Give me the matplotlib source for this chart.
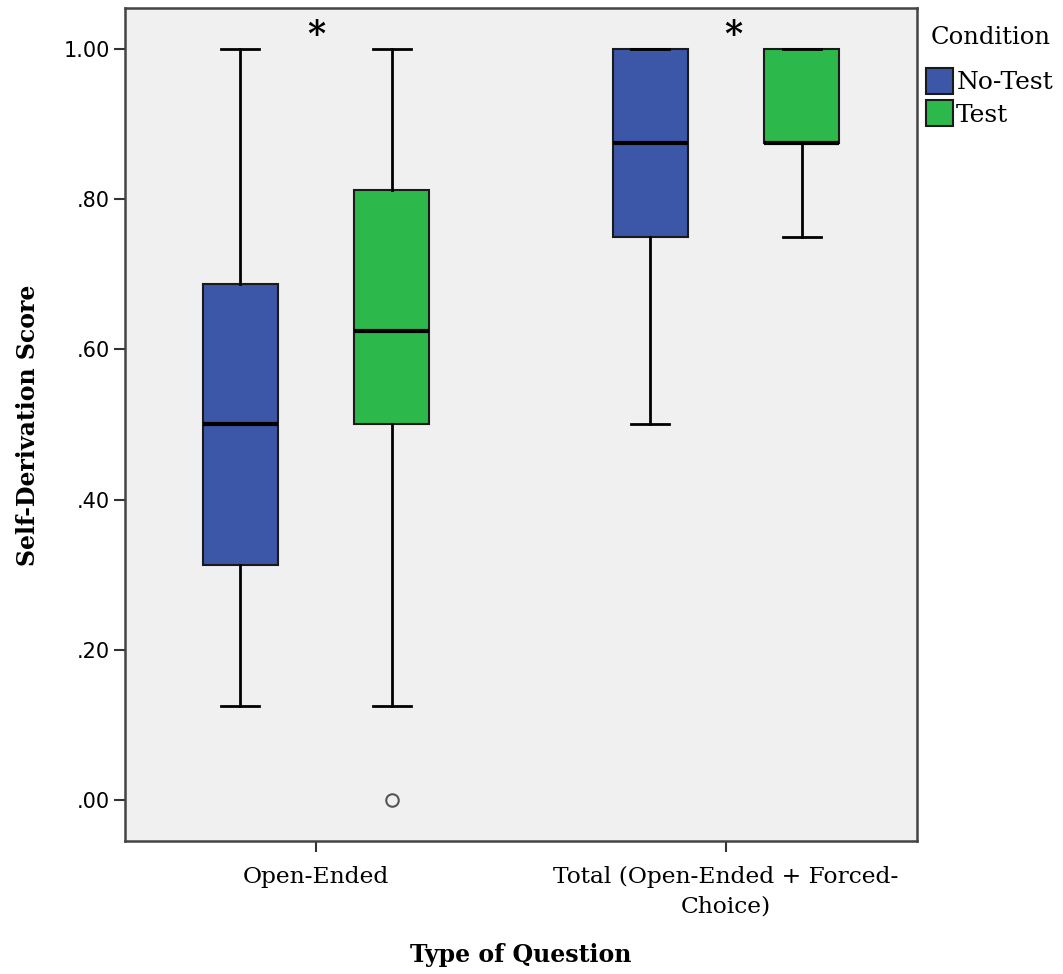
import matplotlib
matplotlib.use("Agg")
import matplotlib.pyplot as plt
from matplotlib.patches import Patch

categories = ["Open-Ended", "Total (Open-Ended + Forced-\nChoice)"]
conditions = ["No-Test", "Test"]
colors = ["#3C56A8", "#2DB84B"]

# per category, per condition: whislo, q1, med, q3, whishi
whislo = [[0.125, 0.125], [0.50, 0.75]]
q1 = [[0.3125, 0.50], [0.75, 0.875]]
med = [[0.50, 0.625], [0.875, 0.875]]
q3 = [[0.6875, 0.8125], [1.00, 1.00]]
whishi = [[1.00, 1.00], [1.00, 1.00]]
fliers = [[[], [0.0]], [[], []]]

yticks = [0.0, 0.2, 0.4, 0.6, 0.8, 1.0]
ytick_labels = [".00", ".20", ".40", ".60", ".80", "1.00"]

fig = plt.figure(figsize=(10.63, 9.74), dpi=100)
ax = fig.add_axes([125/1063, 1-841/974, (917-125)/1063, (841-8)/974])
ax.set_facecolor("#F0F0F0")

offset = 0.185
width = 0.183
for ci in range(len(categories)):
    for k in range(len(conditions)):
        st = [dict(whislo=whislo[ci][k], q1=q1[ci][k], med=med[ci][k],
                   q3=q3[ci][k], whishi=whishi[ci][k], fliers=fliers[ci][k])]
        pos = ci + (-offset if k == 0 else offset)
        ax.bxp(st, positions=[pos], widths=width, patch_artist=True,
               boxprops=dict(facecolor=colors[k], edgecolor="#1a1a1a", linewidth=1.5),
               medianprops=dict(color="black", linewidth=3),
               whiskerprops=dict(color="black", linewidth=2),
               capprops=dict(color="black", linewidth=2),
               capwidths=width/2,
               flierprops=dict(marker="o", markersize=9, markerfacecolor="none",
                               markeredgecolor="#555555", markeredgewidth=1.5),
               manage_ticks=False, zorder=3)

ax.set_xlim(-0.466, 1.466)
ax.set_ylim(-0.0546, 1.0546)
ax.set_xticks([0, 1])
ax.set_xticklabels(categories, fontsize=16.8, family="DejaVu Serif")
ax.set_yticks(yticks)
ax.set_yticklabels(ytick_labels, fontsize=15, family="DejaVu Sans")
for lbl in ax.get_xticklabels():
    lbl.set_linespacing(1.45)
ax.tick_params(axis="both", direction="out", length=8, width=1.5, color="#333333")
ax.tick_params(axis="y", pad=3)
ax.tick_params(axis="x", pad=10)
for s in ax.spines.values():
    s.set_color("#444444")
    s.set_linewidth(1.8)

ax.text(0, 1.018, "*", ha="center", va="center", fontsize=25, fontweight="bold", family="DejaVu Serif")
ax.text(1.017, 1.018, "*", ha="center", va="center", fontsize=25, fontweight="bold", family="DejaVu Serif")

fig.text(521/1063, 1-955/974, "Type of Question", ha="center", va="center",
         fontsize=17, fontweight="bold", family="DejaVu Serif")
fig.text(28/1063, 1-425/974, "Self-Derivation Score", ha="center", va="center",
         rotation=90, fontsize=17, fontweight="bold", family="DejaVu Serif")

fig.text(991/1063, 1-38/974, "Condition", ha="center", va="center",
         fontsize=17.5, family="DejaVu Serif")
handles = [Patch(facecolor=c, edgecolor="#1a1a1a", linewidth=1.5) for c in colors]
leg = fig.legend(handles, conditions, loc="upper left",
                 bbox_to_anchor=(922/1063, 1-64/974), frameon=False,
                 prop=dict(family="DejaVu Serif", size=18),
                 handlelength=1.1, handleheight=1.25, handletextpad=0.12,
                 labelspacing=0.22, borderaxespad=0, borderpad=0.15)

fig.savefig("out.png", dpi=100)
